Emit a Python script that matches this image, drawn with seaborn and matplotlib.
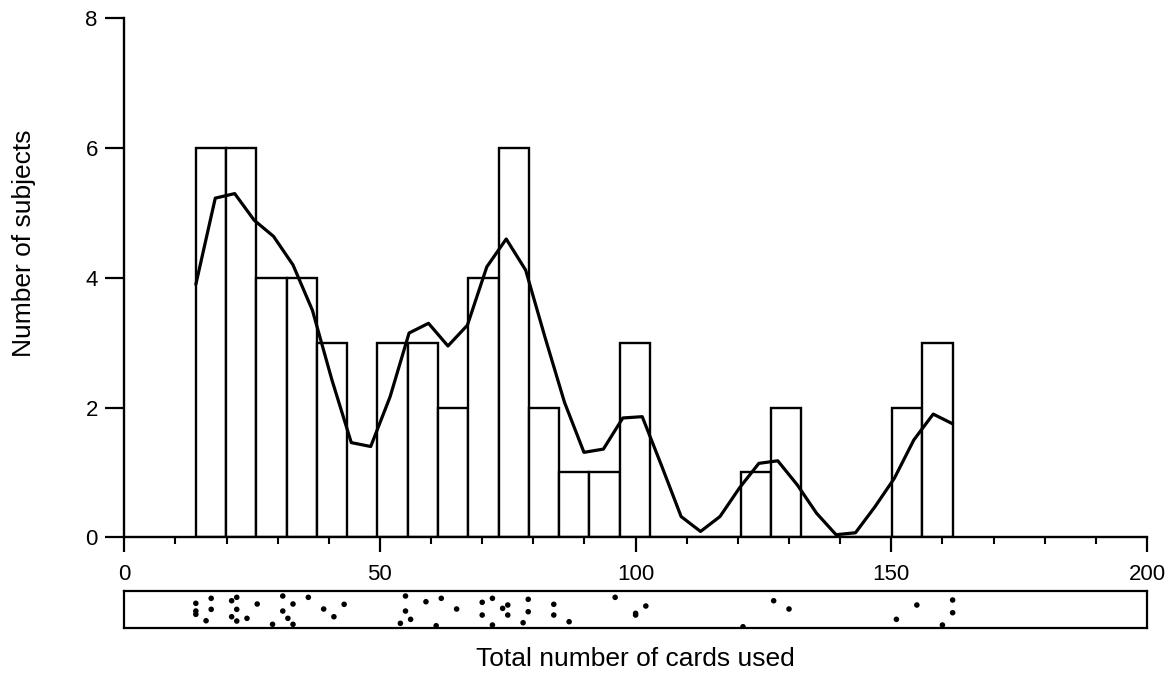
import matplotlib
matplotlib.use("Agg")
import matplotlib.pyplot as plt
from matplotlib.ticker import MultipleLocator
import seaborn as sns
import numpy as np

# Data: total number of cards used per subject (56 subjects), with the
# vertical jitter of each point in the strip (rug) panel below the histogram
cards = [14, 14, 14, 16, 17, 17,
         21, 21, 22, 22, 22, 24,
         26, 29, 31, 31,
         32, 33, 33, 36,
         39, 41, 43,
         54, 55, 55,
         56, 59, 61,
         62, 65,
         70, 70, 72, 72,
         74, 75, 75, 78, 79, 79,
         84, 84,
         87,
         96,
         100, 100, 102,
         121,
         127, 130,
         151, 155,
         160, 162, 162]
jitter = [0.668, 0.459, 0.370, 0.197, 0.803, 0.505,
          0.738, 0.305, 0.830, 0.505, 0.189, 0.262,
          0.649, 0.100, 0.865, 0.459,
          0.262, 0.649, 0.100, 0.830,
          0.514, 0.305, 0.641,
          0.127, 0.865, 0.459,
          0.235, 0.711, 0.062,
          0.803, 0.514,
          0.695, 0.351, 0.803, 0.081,
          0.532, 0.622, 0.351, 0.143, 0.776, 0.441,
          0.641, 0.351,
          0.170,
          0.830,
          0.397, 0.351, 0.595,
          0.035,
          0.738, 0.514,
          0.235, 0.622,
          0.081, 0.757, 0.414]

# Smoothed density curve (scaled to counts)
curve_x = [14.0, 17.8, 21.6, 25.4, 29.2, 33.0, 36.8, 40.6, 44.4, 48.2,
           52.0, 55.7, 59.5, 63.3, 67.1, 70.9, 74.7, 78.5, 82.3, 86.1,
           89.9, 93.7, 97.5, 101.3, 105.1, 108.9, 112.7, 116.5, 120.3, 124.1,
           127.8, 131.6, 135.4, 139.2, 143.0, 146.8, 150.6, 154.4, 158.2, 162.0]
curve_y = [3.90, 5.23, 5.30, 4.89, 4.64, 4.20, 3.50, 2.43, 1.46, 1.40,
           2.17, 3.15, 3.30, 2.95, 3.27, 4.17, 4.60, 4.12, 3.08, 2.08,
           1.31, 1.36, 1.84, 1.86, 1.10, 0.32, 0.09, 0.32, 0.76, 1.14,
           1.18, 0.81, 0.37, 0.04, 0.07, 0.47, 0.91, 1.50, 1.90, 1.75]

n_bins = 25
bin_range = (14, 162)
x_ticks = [0, 50, 100, 150, 200]
y_ticks = [0, 2, 4, 6, 8]

sns.set_style("ticks")
plt.rcParams['font.family'] = ['Liberation Sans', 'DejaVu Sans']

fig = plt.figure(figsize=(11.7, 6.75), dpi=100)
ax = fig.add_axes([0.1062, 0.204, 0.8741, 0.7686])
rax = fig.add_axes([0.1062, 0.0696, 0.8741, 0.0548])

sns.histplot(x=cards, bins=n_bins, binrange=bin_range, ax=ax,
             color='white', edgecolor='black', linewidth=1.7, alpha=1)
sns.lineplot(x=curve_x, y=curve_y, ax=ax, color='black', linewidth=2.3)

ax.set_xlim(0, 200)
ax.set_ylim(0, 8)
ax.set_xticks(x_ticks)
ax.set_xticklabels([str(t) for t in x_ticks])
ax.xaxis.set_minor_locator(MultipleLocator(10))
ax.set_yticks(y_ticks)
ax.set_yticklabels([str(t) for t in y_ticks])
ax.tick_params(axis='x', which='major', bottom=True, length=11, width=1.6,
               direction='out', pad=8, labelsize=16, color='black',
               labelcolor='black')
ax.tick_params(axis='x', which='minor', bottom=True, length=5, width=1.5,
               direction='out', color='black')
ax.tick_params(axis='y', which='major', left=True, length=14, width=1.6,
               direction='out', pad=5, labelsize=16, color='black',
               labelcolor='black')
ax.tick_params(axis='y', which='minor', left=False)
sns.despine(ax=ax)
for s in ['left', 'bottom']:
    ax.spines[s].set_linewidth(1.7)
    ax.spines[s].set_color('black')
ax.set_xlabel('')
ax.set_ylabel('Number of subjects', fontsize=19, color='black')
ax.yaxis.set_label_coords(-0.086, 0.567)

# strip (rug) of individual observations
sns.scatterplot(x=cards, y=jitter, ax=rax, color='black', s=16,
                marker='o', edgecolor='none')
rax.set_xlim(0, 200)
rax.set_ylim(0, 1)
rax.set_xticks([])
rax.set_yticks([])
rax.tick_params(bottom=False, left=False)
for s in rax.spines.values():
    s.set_visible(True)
    s.set_linewidth(1.6)
    s.set_color('black')
rax.set_ylabel('')
rax.set_xlabel('Total number of cards used', fontsize=19, color='black',
               labelpad=14)

fig.savefig('out.png', dpi=100, facecolor='white')
